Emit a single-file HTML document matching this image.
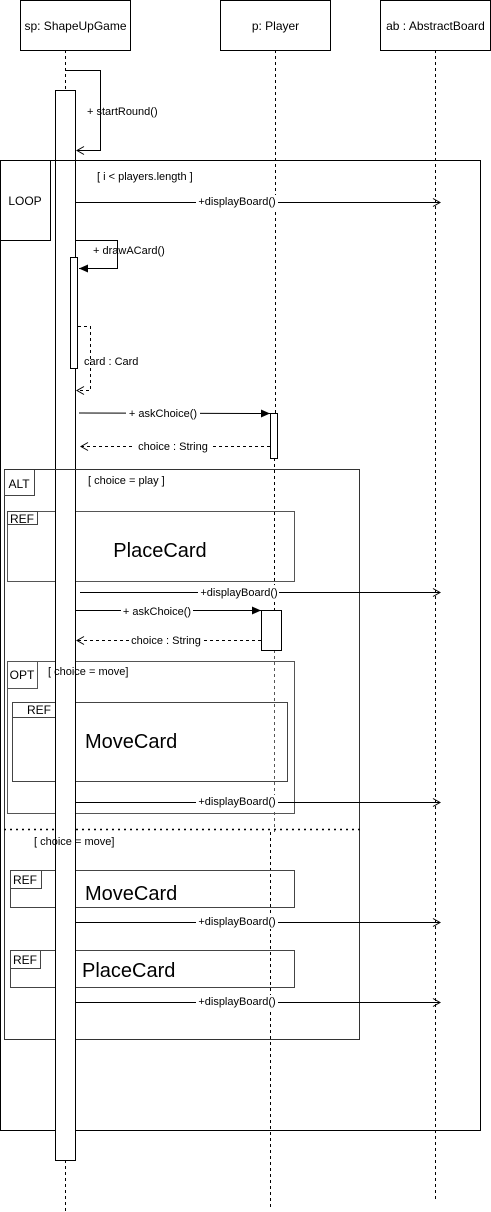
<!DOCTYPE html>
<html><head><meta charset="utf-8"><style>
html,body{margin:0;padding:0;background:#fff;}
svg{display:block;}
text{font-family:"Liberation Sans",Arial,sans-serif;fill:#000;}
.s{font-size:11px;}
.h{font-size:12px;}
.b{font-size:20px;}
</style></head><body>
<svg width="491" height="1212" viewBox="0 0 491 1212" xmlns="http://www.w3.org/2000/svg">
<defs>
<marker id="op" markerWidth="10" markerHeight="10" refX="8" refY="5" orient="auto" markerUnits="userSpaceOnUse"><path d="M1,1 L8,5 L1,9" fill="none" stroke="#000" stroke-width="1"/></marker>
<marker id="fl" markerWidth="10" markerHeight="10" refX="9" refY="5" orient="auto" markerUnits="userSpaceOnUse"><path d="M0,1 L9,5 L0,9 Z" fill="#000"/></marker>
</defs>
<g fill="none" stroke="#000" stroke-width="1">
<rect x="20.5" y="0.5" width="110" height="50"/>
<rect x="220.5" y="0.5" width="110" height="50"/>
<rect x="380.5" y="0.5" width="110" height="50"/>
<g stroke-dasharray="3,3">
<line x1="65.5" y1="50" x2="65.5" y2="90"/>
<line x1="65.5" y1="1160" x2="65.5" y2="1212"/>
<line x1="275.5" y1="50" x2="275.5" y2="413"/>
<line x1="274.5" y1="458" x2="274.5" y2="610"/>
<line x1="274.5" y1="650" x2="274.5" y2="832" stroke="#555"/>
<line x1="270.5" y1="832" x2="270.5" y2="1208"/>
<line x1="435.5" y1="50" x2="435.5" y2="1200"/>
</g>
<rect x="0.5" y="160.5" width="480" height="970"/>
<path d="M0.5,240.5 H50.5 V160.5"/>
<rect x="4.5" y="469.5" width="355" height="570" stroke="#333"/>
<rect x="4.5" y="469.5" width="30" height="26" stroke="#444"/>
<line x1="4" y1="829.5" x2="360" y2="829.5" stroke-dasharray="2,4" stroke-width="1.5"/>
<rect x="7.5" y="511.5" width="287" height="70" stroke="#555"/>
<rect x="7.5" y="511.5" width="30" height="13" stroke="#444"/>
<rect x="7.5" y="661.5" width="287" height="152" stroke="#555"/>
<rect x="7.5" y="661.5" width="30" height="27" stroke="#555"/>
<rect x="12.5" y="702.5" width="275" height="79" stroke="#444"/>
<rect x="12.5" y="702.5" width="53" height="15" stroke="#444"/>
<rect x="10.5" y="870.5" width="284" height="37" stroke="#444"/>
<rect x="10.5" y="870.5" width="31" height="18" stroke="#444"/>
<rect x="10.5" y="950.5" width="284" height="37" stroke="#444"/>
<rect x="10.5" y="950.5" width="30" height="18" stroke="#444"/>
<rect x="55.5" y="90.5" width="20" height="1070" fill="#fff"/>
<rect x="70.5" y="257.5" width="7" height="111" fill="#fff"/>
<rect x="270.5" y="413.5" width="7" height="45" fill="#fff"/>
<rect x="261.5" y="610.5" width="20" height="40" fill="#fff"/>
<line x1="0" y1="160.5" x2="480" y2="160.5"/>
<line x1="4" y1="469.5" x2="360" y2="469.5" stroke="#333"/>
<path d="M66,70.5 H100.5 V150.5 H77" marker-end="url(#op)"/>
<line x1="75" y1="202.5" x2="440" y2="202.5" marker-end="url(#op)"/>
<path d="M75,240.5 H117.5 V268.5 H79" marker-end="url(#fl)"/>
<path d="M78,326.5 H90.5 V390.5 H77" stroke-dasharray="3,3" marker-end="url(#op)"/>
<line x1="79" y1="413" x2="270" y2="413.5" marker-end="url(#fl)"/>
<line x1="270" y1="446.5" x2="81" y2="446.5" stroke-dasharray="3,3" marker-end="url(#op)"/>
<line x1="80" y1="592.5" x2="440" y2="592.5" marker-end="url(#op)"/>
<line x1="75" y1="610.5" x2="261" y2="610.5" marker-end="url(#fl)"/>
<line x1="261" y1="640.5" x2="77" y2="640.5" stroke-dasharray="3,3" marker-end="url(#op)"/>
<line x1="75" y1="802.5" x2="440" y2="802.5" marker-end="url(#op)"/>
<line x1="75" y1="922.5" x2="440" y2="922.5" marker-end="url(#op)"/>
<line x1="75" y1="1002.5" x2="440" y2="1002.5" marker-end="url(#op)"/>
</g>
<g fill="#fff">
<rect x="196" y="195" width="82" height="14"/>
<rect x="126" y="406" width="74" height="13"/>
<rect x="135" y="440" width="76" height="13"/>
<rect x="198" y="585" width="81" height="14"/>
<rect x="121" y="603" width="72" height="13"/>
<rect x="129" y="634" width="75" height="13"/>
<rect x="196" y="795" width="82" height="14"/>
<rect x="196" y="915" width="82" height="14"/>
<rect x="196" y="995" width="82" height="14"/>
</g>
<text class="h" x="75.5" y="30" text-anchor="middle">sp: ShapeUpGame</text>
<text class="h" x="275.5" y="30" text-anchor="middle">p: Player</text>
<text class="h" x="435.5" y="30" text-anchor="middle">ab : AbstractBoard</text>
<text class="s" x="87" y="115">+ startRound()</text>
<text class="s" x="97" y="180">[ i &lt; players.length ]</text>
<text class="h" x="25" y="205" text-anchor="middle">LOOP</text>
<text class="s" x="237" y="205" text-anchor="middle">+displayBoard()</text>
<text class="s" x="93" y="254">+ drawACard()</text>
<text class="s" x="84" y="365">card : Card</text>
<text class="s" x="163" y="417" text-anchor="middle">+ askChoice()</text>
<text class="s" x="173" y="450" text-anchor="middle">choice : String</text>
<text class="h" x="19" y="488" text-anchor="middle">ALT</text>
<text class="s" x="88" y="484">[ choice = play ]</text>
<text class="h" x="22" y="523" text-anchor="middle">REF</text>
<text class="b" x="160" y="557" text-anchor="middle">PlaceCard</text>
<text class="s" x="239" y="596" text-anchor="middle">+displayBoard()</text>
<text class="s" x="157" y="615" text-anchor="middle">+ askChoice()</text>
<text class="s" x="166" y="644" text-anchor="middle">choice : String</text>
<text class="h" x="22" y="679" text-anchor="middle">OPT</text>
<text class="s" x="48" y="675">[ choice = move]</text>
<text class="h" x="39" y="714" text-anchor="middle">REF</text>
<text class="b" x="85" y="748">MoveCard</text>
<text class="s" x="237" y="805" text-anchor="middle">+displayBoard()</text>
<text class="s" x="34" y="845">[ choice = move]</text>
<text class="h" x="25" y="884" text-anchor="middle">REF</text>
<text class="b" x="85" y="900">MoveCard</text>
<text class="s" x="237" y="925" text-anchor="middle">+displayBoard()</text>
<text class="h" x="25" y="964" text-anchor="middle">REF</text>
<text class="b" x="82" y="977">PlaceCard</text>
<text class="s" x="237" y="1005" text-anchor="middle">+displayBoard()</text>
</svg>
</body></html>
